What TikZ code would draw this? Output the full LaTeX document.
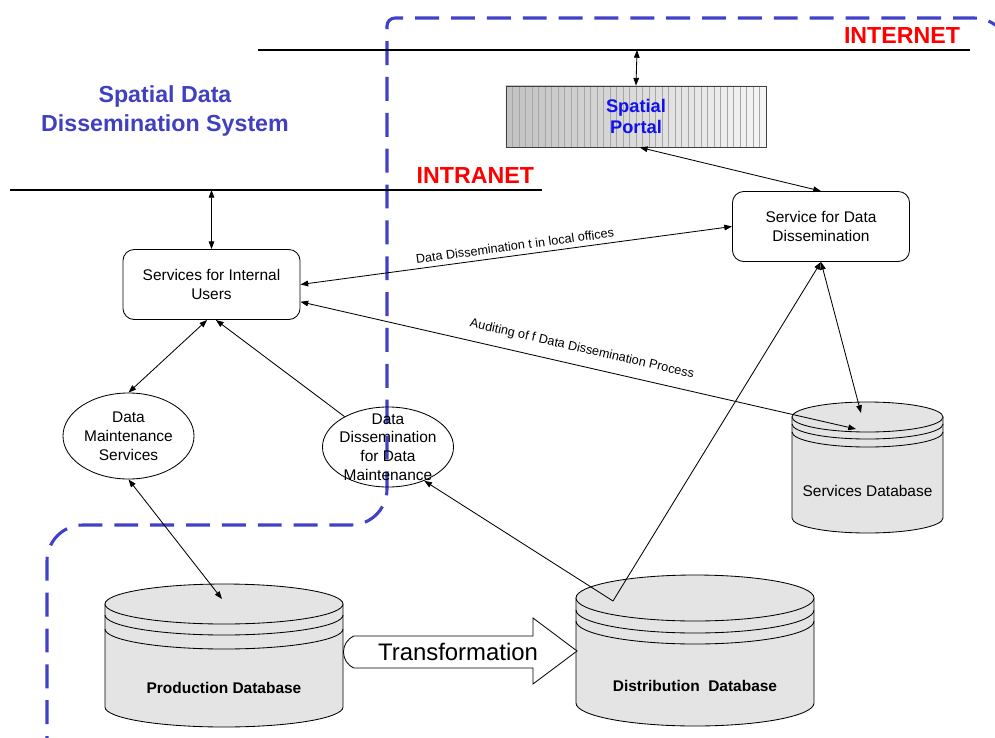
\documentclass[tikz,border=0pt]{standalone}
\usepackage{fontspec}
\setmainfont{Liberation Sans}
\usetikzlibrary{shapes.geometric, arrows.meta, positioning, calc}

\definecolor{zoneblue}{RGB}{64, 64, 200}
\definecolor{titleblue}{RGB}{64, 64, 192}
\definecolor{portalblue}{RGB}{16, 16, 240}
\definecolor{netred}{RGB}{255, 0, 0}
\definecolor{dbgray}{RGB}{228, 228, 228}

% database drum: centre x, top y, x radius, y radius, bottom y, ring 1, ring 2 (all in px)
\newcommand{\dbcylinder}[7]{%
  \filldraw[fill=dbgray, line width=0.6pt] (#1-#3,#2) -- (#1-#3,#5)
    arc[start angle=180, end angle=360, x radius=#3*0.025cm, y radius=#4*0.025cm]
    -- (#1+#3,#2) -- cycle;
  \filldraw[fill=dbgray, line width=0.6pt] (#1,#2) ellipse [x radius=#3*0.025cm, y radius=#4*0.025cm];
  \draw[line width=0.6pt] (#1-#3,#2+#6)
    arc[start angle=180, end angle=360, x radius=#3*0.025cm, y radius=#4*0.025cm];
  \draw[line width=0.6pt] (#1-#3,#2+#7)
    arc[start angle=180, end angle=360, x radius=#3*0.025cm, y radius=#4*0.025cm];
}

\tikzset{
  svcbox/.style={draw, line width=0.6pt, rounded corners=0.28cm, minimum width=4.425cm,
    minimum height=1.75cm, align=center, font=\fontsize{11}{13.5}\selectfont},
  svcell/.style={draw, ellipse, line width=0.6pt, inner sep=0pt, minimum width=3.275cm,
    align=center, font=\fontsize{11}{13.5}\selectfont},
  svctext/.style={align=center, font=\fontsize{11}{13.2}\selectfont},
  portal/.style={draw=black!75, line width=0.6pt, minimum width=6.5cm, minimum height=1.525cm,
    left color=black!24, right color=black!4, align=center,
    font=\fontsize{13}{15.5}\selectfont\bfseries, text=portalblue,
    path picture={\foreach \k in {1,...,39}
      \draw[black!35, line width=0.4pt]
        ($(path picture bounding box.south west)!\k/40!(path picture bounding box.south east)$) --
        ($(path picture bounding box.north west)!\k/40!(path picture bounding box.north east)$);}},
  link/.style={line width=0.6pt, <->},
  onelink/.style={line width=0.6pt, ->},
  linklabel/.style={font=\fontsize{9}{11}\selectfont, sloped},
  netline/.style={line width=1.4pt},
  netlabel/.style={font=\fontsize{16.5}{19}\selectfont\bfseries, text=netred, anchor=east},
  zone/.style={zoneblue, line width=2.2pt, dash pattern=on 17pt off 8.5pt},
  dblabel/.style={font=\fontsize{11}{13}\selectfont},
  dbboldlabel/.style={font=\fontsize{11}{13}\selectfont\bfseries}
}

\begin{document}
\begin{tikzpicture}[x=0.025cm, y=-0.025cm, >={Triangle[length=5.5pt,width=4pt]}]
  \useasboundingbox (0,0) rectangle (995,738);

  % Internet zone boundary
  \draw[zone, rounded corners=0.9cm] (47,760) -- (47,525) -- (387,525)
    [rounded corners=0.2cm] -- (387,18) [rounded corners=0.9cm] -- (1010,18) -- (1010,760);

  % Title
  \node[font=\fontsize{16.5}{20}\selectfont\bfseries, text=titleblue, align=center] (title)
    at (165,111) {Spatial Data\\Dissemination System};

  % Networks
  \draw[netline] (258,50) -- (970,50);
  \node[netlabel] (internet) at (965,36) {INTERNET};
  \coordinate (inetgate) at (637,50);
  \draw[netline] (10,190) -- (542,190);
  \node[netlabel] (intranet) at (539,176) {INTRANET};
  \coordinate (intragate) at (211.5,190);

  % Services
  \node[portal] (portal) at (636,116.5) {Spatial\\Portal};
  \node[svcbox] (dissem) at (821,226.5) {Service for Data\\Dissemination};
  \node[svcbox] (internal) at (211.5,284.5) {Services for Internal\\Users};
  \node[svcell, minimum height=2.15cm] (maint) at (128.5,436) {Data\\Maintenance\\Services};
  \node[svcell, minimum height=2cm] (dissmaint) at (388,447) {};
  \node[svctext] (dissmaint-text) at (dissmaint) {Data\\Dissemination\\for Data\\Maintenance};

  % Databases
  \dbcylinder{867.5}{417}{75.5}{15}{518}{7}{15}
  \node[dblabel] (servdb) at (867.5,491) {Services Database};
  \coordinate (sdb-in) at (861,413);
  \coordinate (sdb-audit) at (856,429);

  \dbcylinder{224}{604}{119}{20}{707}{11}{25}
  \node[dbboldlabel] (proddb) at (224,688) {Production Database};
  \coordinate (prod-in) at (222,599);

  \dbcylinder{695}{598}{119}{23}{703}{12}{23}
  \node[dbboldlabel] (distdb) at (695,686) {Distribution\ \ Database};
  \coordinate (dist-out) at (613,601);

  % Transformation arrow
  \draw[fill=white, line width=0.6pt] (354,636) -- (533,636) -- (533,618) -- (577,651)
    -- (533,684) -- (533,668) -- (354,668) .. controls (340,662) and (340,642) .. (354,636) -- cycle;
  \node[font=\fontsize{17}{20}\selectfont] (transf) at (458,652) {Transformation};

  % Connectors
  \draw[link] (inetgate) -- (portal.north);
  \draw[link] (portal.-83) -- (dissem.north);
  \draw[link] (intragate) -- (internal.north);
  \draw[link] (internal.east) -- node[linklabel, above] {Data Dissemination t in local offices} (dissem.west);
  \draw[link] (internal.-11) -- node[linklabel, above=4pt] {Auditing of f Data Dissemination Process} (sdb-audit);
  \draw[link] (dissem.south) -- (sdb-in);
  \draw[onelink] (dist-out) -- (dissem.south);
  \draw[link] (internal.-97) -- (maint.north);
  \draw[onelink] (dissmaint.145) -- (internal.-83);
  \draw[link] (maint.south) -- (prod-in);
  \draw[onelink] (dist-out) -- (dissmaint.-43);
\end{tikzpicture}
\end{document}
